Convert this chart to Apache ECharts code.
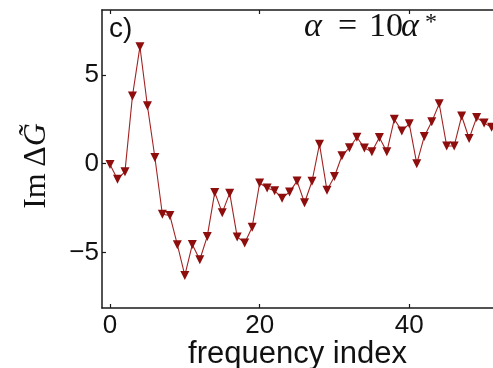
<!DOCTYPE html>
<html>
<head>
<meta charset="utf-8">
<style>
  html, body { margin: 0; padding: 0; background: #ffffff; }
  #chart { width: 493px; height: 368px; }
</style>
<script src="https://cdn.jsdelivr.net/npm/echarts@6/dist/echarts.min.js"></script>
</head>
<body>
<div id="chart"></div>
<script>
// ---- data ----
const freqIndex = [0, 1, 2, 3, 4, 5, 6, 7, 8, 9,
                   10, 11, 12, 13, 14, 15, 16, 17, 18, 19,
                   20, 21, 22, 23, 24, 25, 26, 27, 28, 29,
                   30, 31, 32, 33, 34, 35, 36, 37, 38, 39,
                   40, 41, 42, 43, 44, 45, 46, 47, 48, 49,
                   50, 51];
const imDeltaG = [-0.05, -0.88, -0.45, 3.82, 6.6, 3.27, 0.35, -2.85, -2.92, -4.57,
                  -6.3, -4.56, -5.42, -4.1, -1.62, -2.76, -1.66, -4.13, -4.47, -3.58,
                  -1.09, -1.37, -1.52, -1.95, -1.59, -0.98, -2.2, -0.99, 1.1, -1.5,
                  -0.72, 0.45, 0.9, 1.49, 0.89, 0.67, 1.48, 0.67, 2.51, 1.85,
                  2.25, 0.0, 1.53, 2.36, 3.38, 1.0, 1.0, 2.69, 1.42, 2.6,
                  2.3, 2.05];
const xTicks = [0, 20, 40];
const yTicks = [-5, 0, 5];
const xRange = [-1.07, 51.19];
const yRange = [-8.14, 8.67];
const xAxisTitle = 'frequency index';
const panelTag = 'c)';

const axisColor = '#1a1a1a';
const lineColor = '#a32222';
const markColor = '#8e0d0d';

const chart = echarts.init(document.getElementById('chart'), null, { renderer: 'canvas' });

const seriesData = freqIndex.map((x, i) => [x, imDeltaG[i]]);

const serif = 'Liberation Serif';
const textFill = '#111';

const option = {
  animation: false,
  backgroundColor: '#ffffff',
  grid: { left: 102, top: 10, right: 0, bottom: 60, containLabel: false, outerBoundsMode: 'none' },
  xAxis: [
    {
      type: 'value', position: 'bottom', min: xRange[0], max: xRange[1],
      axisLine: { show: true, onZero: false, lineStyle: { color: axisColor, width: 1.5 } },
      axisTick: { show: true, inside: true, length: 4, customValues: xTicks, lineStyle: { color: axisColor, width: 1.2 } },
      axisLabel: { show: true, customValues: xTicks, margin: 5, fontSize: 26, color: textFill,
                   fontFamily: 'Liberation Sans' },
      splitLine: { show: false },
      name: xAxisTitle, nameLocation: 'middle', nameGap: 31, nameMoveOverlap: false,
      nameTextStyle: { fontSize: 31, color: textFill, fontFamily: 'Liberation Sans' }
    },
    {
      type: 'value', position: 'top', min: xRange[0], max: xRange[1],
      axisLine: { show: true, onZero: false, lineStyle: { color: axisColor, width: 1.5 } },
      axisTick: { show: true, inside: true, length: 4, customValues: xTicks, lineStyle: { color: axisColor, width: 1.2 } },
      axisLabel: { show: false },
      splitLine: { show: false }
    }
  ],
  yAxis: [
    {
      type: 'value', position: 'left', min: yRange[0], max: yRange[1],
      axisLine: { show: true, onZero: false, lineStyle: { color: axisColor, width: 1.5 } },
      axisTick: { show: true, inside: true, length: 4, customValues: yTicks, lineStyle: { color: axisColor, width: 1.2 } },
      axisLabel: { show: true, customValues: yTicks, margin: 3, fontSize: 26, color: textFill,
                   fontFamily: 'Liberation Sans',
                   formatter: v => (v < 0 ? '\u2212' + Math.abs(v) : String(v)) },
      splitLine: { show: false }
    }
  ],
  series: [
    {
      type: 'line', xAxisIndex: 0, yAxisIndex: 0,
      data: seriesData,
      clip: true,
      symbol: 'triangle', symbolRotate: 180, symbolSize: 9,
      lineStyle: { color: lineColor, width: 1.1 },
      itemStyle: { color: markColor },
      emphasis: { disabled: true }
    }
  ],
  graphic: [
    {
      type: 'text', x: 37, y: 166, rotation: Math.PI / 2,
      style: {
        text: '{r|Im\u2009\u0394}{i|G\u0303}',
        align: 'center', verticalAlign: 'middle', fill: textFill,
        rich: {
          r: { fontFamily: serif, fontSize: 32, fill: textFill },
          i: { fontFamily: serif, fontStyle: 'italic', fontSize: 32, fill: textFill }
        }
      }
    },
    {
      type: 'text', x: 109, y: 29,
      style: { text: panelTag, font: '28px "Liberation Sans"', fill: textFill, align: 'left', verticalAlign: 'middle' }
    },
    {
      type: 'text', x: 304, y: 27,
      style: { text: '\u03B1', font: 'italic 34px "Liberation Serif"', fill: textFill, align: 'left', verticalAlign: 'middle' }
    },
    {
      type: 'text', x: 347.5, y: 27,
      style: { text: '=', font: '34px "Liberation Serif"', fill: textFill, align: 'center', verticalAlign: 'middle' }
    },
    {
      type: 'text', x: 369, y: 27,
      style: { text: '10', font: '34px "Liberation Serif"', fill: textFill, align: 'left', verticalAlign: 'middle' }
    },
    {
      type: 'text', x: 401, y: 27,
      style: { text: '\u03B1', font: 'italic 34px "Liberation Serif"', fill: textFill, align: 'left', verticalAlign: 'middle' }
    },
    {
      type: 'text', x: 425, y: 23,
      style: { text: '*', font: '24px "Liberation Serif"', fill: textFill, align: 'left', verticalAlign: 'middle' }
    }
  ]
};

chart.setOption(option);
</script>
</body>
</html>
